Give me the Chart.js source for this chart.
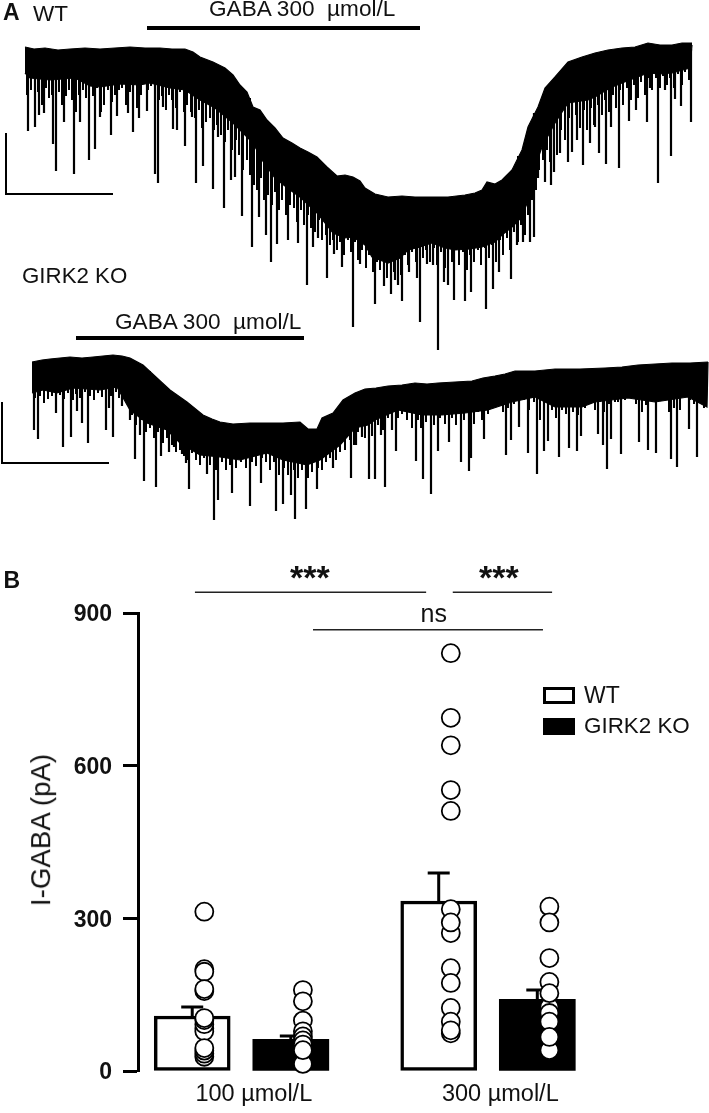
<!DOCTYPE html>
<html>
<head>
<meta charset="utf-8">
<script src="https://cdn.jsdelivr.net/npm/chart.js@4"></script>
<style>
html,body{margin:0;padding:0;background:#fff;overflow:hidden}
#page{position:relative;width:709px;height:1113px;background:#fff;overflow:hidden}
canvas{position:absolute;left:0}
.t{position:absolute;white-space:pre;line-height:1;color:#111;font-family:"Liberation Sans",Arial,sans-serif}
.sw{position:absolute;box-sizing:border-box;border:3px solid #000;background:#fff}
</style>
</head>
<body>
<div id="page">
<canvas id="traceWT" width="709" height="352" style="top:0"></canvas>
<canvas id="traceKO" width="709" height="230" style="top:300px"></canvas>
<canvas id="bars" width="709" height="533" style="top:580px"></canvas>
</div>
<script>
const wtUpperT=[25,34,45,58,70,85,100,115,130,145,160,172,185,193,200,213,225,233,240,247,253,260,267,275,283,292,300,308,317,327,337,345,353,360,365,375,388,402,415,432,448,465,475,482,487,495,502,512,522,528,538,545,555,568,582,595,608,622,635,648,660,672,682,692];
const wtUpperV=[47,49,48,50,49,48,49,48,47,48,48,49,49,52,57,62,68,75,85,92,107,110,120,128,138,143,148,152,157,167,176,175,177,181,188,194,197,196,197,197,197,195,193,190,182,184,180,170,150,127,107,88,77,62,57,53,50,48,47,43,45,45,43,43];
const wtLowerT=[25,30,50,75,90,100,120,140,150,170,185,200,215,233,245,253,262,275,290,300,317,333,345,353,365,372,388,400,408,420,432,445,455,470,482,495,502,512,522,530,535,542,555,568,588,595,610,622,635,648,660,672,690,692];
const wtLowerV=[73,78,80,78,86,87,84,85,83,88,90,100,108,123,135,143,160,178,190,197,213,233,238,237,245,257,263,258,250,247,243,248,250,249,247,242,235,227,217,195,167,147,123,103,100,97,88,83,78,73,74,73,68,45];
const wtSpikeT=[28,35,39,44,53,56,64,74,80,89,95,100,111,117,128,133,139,147,155,158,163,173,177,185,192,196,203,213,218,224,231,235,242,252,259,266,271,277,288,298,307,313,318,327,334,342,353,360,375,384,391,395,398,402,409,417,420,427,433,438,444,448,454,465,471,486,493,499,511,517,523,530,534,538,545,551,554,560,568,572,577,583,590,595,599,606,611,619,629,636,647,650,658,665,671,675,681,691];
const wtSpikeV=[131,127,115,113,144,171,122,174,122,160,149,117,135,116,113,132,118,111,174,183,107,129,130,146,117,183,166,189,137,208,180,177,216,247,217,235,262,244,240,243,285,247,238,278,254,267,327,264,304,286,294,280,285,301,272,278,322,264,265,350,282,285,300,301,292,309,289,272,279,245,242,242,237,178,182,185,172,153,162,152,140,165,143,127,153,164,127,168,121,110,122,88,183,90,156,99,106,122];
const wtHairs=[[27,95],[31,90],[35,100],[38,92],[42,105],[46,88],[49,98],[52,95],[59,92],[62,105],[66,96],[69,90],[72,100],[76,112],[79,95],[83,90],[86,98],[90,85],[93,96],[97,88],[101,112],[104,105],[108,90],[112,102],[115,95],[119,90],[122,88],[126,105],[130,92],[134,85],[137,108],[141,95],[144,82],[148,90],[151,86],[159,100],[162,96],[166,110],[169,95],[172,100],[176,108],[180,92],[184,112],[187,105],[191,112],[195,118],[199,110],[202,128],[206,122],[210,118],[214,130],[217,125],[221,135],[225,142],[228,130],[232,150],[236,140],[239,155],[243,170],[247,160],[250,175],[254,185],[257,190],[261,178],[264,200],[268,195],[272,205],[275,192],[279,210],[282,200],[286,215],[290,205],[294,208],[297,222],[301,210],[304,225],[308,215],[311,228],[315,232],[319,220],[322,240],[326,235],[330,245],[333,240],[337,250],[340,242],[344,255],[348,240],[351,252],[355,242],[358,260],[362,250],[366,268],[369,255],[373,272],[377,262],[380,270],[384,258],[387,278],[391,265],[394,272],[398,260],[401,275],[405,255],[408,265],[412,252],[416,262],[419,248],[423,258],[426,250],[430,262],[434,248],[437,265],[441,252],[445,268],[448,255],[452,262],[456,250],[459,265],[463,252],[467,270],[470,255],[474,262],[478,250],[481,265],[485,248],[489,258],[492,245],[496,262],[500,240],[503,255],[507,238],[510,250],[514,232],[518,242],[521,225],[525,235],[528,215],[532,200],[536,190],[539,170],[543,160],[547,150],[550,162],[554,135],[557,155],[561,130],[565,140],[569,118],[572,135],[576,115],[580,128],[584,110],[587,130],[591,108],[594,125],[598,105],[602,115],[605,100],[609,112],[613,95],[616,108],[620,90],[623,105],[627,88],[631,100],[634,85],[638,98],[641,82],[645,95],[649,78],[652,90],[656,78],[660,88],[663,76],[667,85],[670,78],[674,88],[678,74],[682,85],[685,72],[689,80]];
const koUpperT=[32,42,50,60,70,82,93,103,113,122,130,143,157,170,187,203,212,220,233,250,267,283,300,308,317,322,333,343,355,365,376,388,402,415,427,438,455,472,483,495,505,515,535,555,580,605,622,638,655,672,690,708];
const koUpperV=[362,360,359,358,357,358,357,356,355,356,358,365,378,390,402,415,419,422,424,423,423,423,422,429,429,418,413,400,393,389,388,386,385,383,384,383,382,381,378,376,374,371,371,369,369,368,367,365,364,363,363,362];
const koLowerT=[32,43,57,73,100,117,130,147,167,180,200,220,240,267,283,307,320,340,355,368,375,398,422,442,465,488,512,535,555,582,595,628,655,688,707,708];
const koLowerV=[393,390,393,388,390,387,410,423,430,443,455,457,460,453,460,465,460,445,428,425,420,410,415,415,413,410,402,397,407,407,402,398,402,397,407,362];
const koSpikeT=[34,38,56,63,71,77,82,88,106,109,113,122,130,135,140,144,156,161,169,174,182,186,189,207,214,218,232,250,261,276,283,291,295,306,317,333,351,356,362,369,375,381,385,392,396,416,423,431,438,449,461,469,471,484,506,511,519,528,537,544,548,559,569,577,581,598,603,607,611,621,639,648,656,671,677,689,697];
const koSpikeV=[430,439,413,447,437,411,423,443,430,408,437,406,420,459,435,481,487,456,452,447,454,463,489,474,520,500,493,506,483,511,504,495,519,509,489,468,478,445,437,479,479,435,487,430,451,461,479,494,451,442,462,471,458,439,455,440,427,453,474,451,441,457,448,451,436,434,445,469,439,454,442,450,453,459,467,429,457];
const koHairs=[[35,398],[40,396],[44,403],[48,399],[52,396],[56,402],[60,395],[64,399],[68,393],[73,400],[76,394],[80,398],[85,392],[90,396],[94,400],[98,393],[102,397],[106,392],[111,396],[116,392],[119,398],[124,392],[127,400],[132,415],[136,425],[141,420],[146,432],[150,428],[154,438],[158,432],[163,443],[167,438],[172,445],[176,452],[180,450],[184,456],[188,460],[192,453],[196,460],[200,465],[204,458],[210,465],[216,470],[222,462],[226,470],[230,465],[236,468],[241,462],[246,468],[252,462],[256,466],[262,458],[266,462],[270,470],[274,462],[279,475],[284,468],[288,475],[294,470],[298,478],[302,470],[308,478],[312,472],[318,468],[322,470],[326,462],[330,458],[336,460],[340,452],[345,450],[350,440],[354,445],[358,432],[365,438],[369,430],[372,436],[378,425],[383,430],[388,418],[392,425],[398,418],[402,414],[407,420],[412,428],[418,420],[421,428],[426,422],[434,425],[440,418],[445,424],[452,418],[456,425],[464,420],[470,416],[474,424],[478,412],[482,420],[488,414],[493,408],[498,406],[503,412],[508,408],[514,404],[519,412],[524,400],[529,410],[534,402],[540,420],[552,410],[556,418],[562,410],[566,414],[573,412],[578,415],[585,408],[590,404],[595,410],[600,402],[604,412],[609,404],[615,402],[618,402],[625,400],[632,398],[636,404],[642,412],[646,405],[652,402],[660,400],[664,396],[669,412],[674,408],[680,410],[684,395],[690,400],[694,404],[700,398],[704,408]];
const stimWT=[147,420], stimKO=[76,304];
const scaleWT_T=[6,6,113], scaleWT_V=[133,194,194];
const scaleKO_T=[2,2,109], scaleKO_V=[402,463,463];

// ---------- Panel B: peak I-GABA (pA) ----------
const doses=["100 µmol/L","300 µmol/L"];
const yTicks=[0,300,600,900];
const wtMean=[108,334], koMean=[62,141];
const wtSem=[18,55], koSem=[7,18];
const wt100=[313,200,195,157,161,84,78,92,100,104,28,34,40,45];
const ko100=[159,137,99,14,78,68,60,52,41];
const wt300=[821,694,640,552,511,318,271,292,202,173,124,74,97,80];
const ko300=[323,292,222,175,41,126,114,97,67,153];
const sigA=[-0.189,0.749], sigB=[0.857,1.26], sigNs=[0.29,1.223];
const sigLevelTop=941, sigLevelNs=867;

const INK="#000";
const zip=(xs,ys)=>xs.map((x,i)=>({x,y:ys[i]}));
const nearest=(ts,vs,t)=>{let b=0;ts.forEach((v,i)=>{if(Math.abs(v-t)<Math.abs(ts[b]-t))b=i});return vs[b]};
function spikes(ts,vs,uT,uV){const o=[];ts.forEach((t,i)=>{o.push({x:t,y:nearest(uT,uV,t)+6},{x:t,y:vs[i]},{x:t,y:null})});return o}
const lineDs=(data,w,extra)=>Object.assign({data,borderColor:INK,backgroundColor:INK,borderWidth:w,pointRadius:0,tension:0,fill:false,clip:false,spanGaps:false},extra||{});

function trace(id,yMin,yMax,uT,uV,lT,lV,sT,sV,hairs,stim,stimY,bT,bV){
  new Chart(document.getElementById(id),{
    type:'line',
    data:{datasets:[
      lineDs(zip(uT,uV),1.2,{fill:'+1'}),
      lineDs(zip(lT,lV),1.2),
      lineDs(spikes(sT,sV,uT,uV),2.2),
      lineDs(spikes(hairs.map(h=>h[0]),hairs.map(h=>h[1]),uT,uV),2),
      lineDs(zip(stim,[stimY,stimY]),4),
      lineDs(zip(bT,bV),2)
    ]},
    options:{responsive:false,animation:false,devicePixelRatio:1,
      layout:{padding:0},
      plugins:{legend:{display:false},tooltip:{enabled:false}},
      scales:{
        x:{type:'linear',display:false,min:0,max:709},
        y:{type:'linear',display:false,min:yMin,max:yMax,reverse:true}
      }}
  });
}
trace('traceWT',0,352,wtUpperT,wtUpperV,wtLowerT,wtLowerV,wtSpikeT,wtSpikeV,wtHairs,stimWT,28,scaleWT_T,scaleWT_V);
trace('traceKO',300,530,koUpperT,koUpperV,koLowerT,koLowerV,koSpikeT,koSpikeV,koHairs,stimKO,338,scaleKO_T,scaleKO_V);

// ---------- bar chart ----------
const BAR_SHIFT=0.2, DOT_SHIFT=0.049, LABEL_SHIFT=0.05;
const barData=(means,side)=>means.map((m,i)=>({x:i+side*BAR_SHIFT,y:m}));
const dots=(vals,group,side)=>vals.map(v=>({x:group+side*BAR_SHIFT+DOT_SHIFT,y:v}));
const dotDs=data=>({type:'line',data,showLine:false,pointRadius:9,pointHoverRadius:9,pointBackgroundColor:'#fff',pointBorderColor:INK,pointBorderWidth:1.8,order:1,clip:false});
const sigDs=(xs,lvl)=>({type:'line',data:xs.map(x=>({x,y:lvl})),borderColor:'#222',borderWidth:1.5,pointRadius:0,order:1,clip:false});
const errorBars={id:'errorBars',beforeDatasetsDraw(c){
  const ctx=c.ctx,xs=c.scales.x,ys=c.scales.y;
  [[wtMean,wtSem,-1],[koMean,koSem,1]].forEach(([ms,es,side])=>ms.forEach((m,i)=>{
    const x=xs.getPixelForValue(i+side*BAR_SHIFT),y0=ys.getPixelForValue(m),y1=ys.getPixelForValue(m+es[i]);
    ctx.save();ctx.strokeStyle=INK;ctx.lineWidth=3;ctx.beginPath();
    ctx.moveTo(x,y0);ctx.lineTo(x,y1);ctx.moveTo(x-11,y1);ctx.lineTo(x+11,y1);ctx.stroke();ctx.restore();
  }));
}};
new Chart(document.getElementById('bars'),{
  type:'bar',
  data:{datasets:[
    {label:'WT',data:barData(wtMean,-1),backgroundColor:'#fff',borderColor:INK,borderWidth:3.5,borderSkipped:false,barThickness:76,grouped:false,order:2,clip:false},
    {label:'GIRK2 KO',data:barData(koMean,1),backgroundColor:INK,borderColor:INK,borderWidth:0,barThickness:76,grouped:false,order:2,clip:false},
    dotDs(dots(wt100,0,-1)),dotDs(dots(ko100,0,1)),dotDs(dots(wt300,1,-1)),dotDs(dots(ko300,1,1)),
    sigDs(sigA,sigLevelTop),sigDs(sigB,sigLevelTop),sigDs(sigNs,sigLevelNs)
  ]},
  plugins:[errorBars],
  options:{responsive:false,animation:false,devicePixelRatio:1,
    layout:{padding:{left:0,top:33,right:89,bottom:0}},
    plugins:{legend:{display:false},tooltip:{enabled:false}},
    scales:{
      x:{type:'linear',offset:false,min:-0.42,max:1.5355,
        grid:{display:false,offset:false},border:{display:false},
        afterBuildTicks(s){s.ticks=doses.map((d,i)=>({value:i+LABEL_SHIFT}))},
        afterFit(s){s.height=42},
        ticks:{autoSkip:false,maxRotation:0,minRotation:0,padding:1,color:'#111',
          font:{family:'"Liberation Sans",Arial,sans-serif',size:23.5},
          callback:(v,i)=>doses[i]}},
      y:{type:'linear',min:0,max:900,
        afterBuildTicks(s){s.ticks=yTicks.map(value=>({value}))},
        afterFit(s){s.width=138},
        border:{display:true,color:INK,width:3},
        grid:{drawOnChartArea:false,drawTicks:true,color:INK,tickColor:INK,tickWidth:3,tickLength:15},
        ticks:{padding:11,labelOffset:2,color:'#111',font:{family:'"Liberation Sans",Arial,sans-serif',size:23,weight:'bold'}}}
    }}
});

// ---------- annotations ----------
const labels=[
 ["A",3,20.7,23,true],["WT",33,22,22.5,false],["GABA 300  µmol/L",209,17.5,22.6,false],
 ["GIRK2 KO",22,284,22.3,false],["GABA 300  µmol/L",115,330,22.6,false],
 ["B",3.6,588,23,true],["***",290,589,34,true],["***",479,589,34,true],["ns",420.5,621.7,25,false],
 ["WT",584,703,23,false],["GIRK2 KO",584,734,22.4,false]
];
const page=document.getElementById('page');
labels.forEach(([s,x,base,fs,bold])=>{
  const e=document.createElement('div');e.className='t';e.textContent=s;
  e.style.left=x+'px';e.style.top=(base-0.8465*fs)+'px';e.style.fontSize=fs+'px';
  if(bold)e.style.fontWeight='bold';page.appendChild(e);
});
const yl=document.createElement('div');yl.className='t';yl.textContent='I-GABA (pA)';
yl.style.cssText+='left:41px;top:830px;font-size:27.7px;transform:translate(-50%,-50%) rotate(-90deg);';
page.appendChild(yl);
[[543,687,'#fff'],[543,718,'#000']].forEach(([x,y,c])=>{
  const d=document.createElement('div');d.className='sw';
  d.style.cssText+=`left:${x}px;top:${y}px;width:32px;height:17px;background:${c};`;
  page.appendChild(d);
});
</script>
</body>
</html>
